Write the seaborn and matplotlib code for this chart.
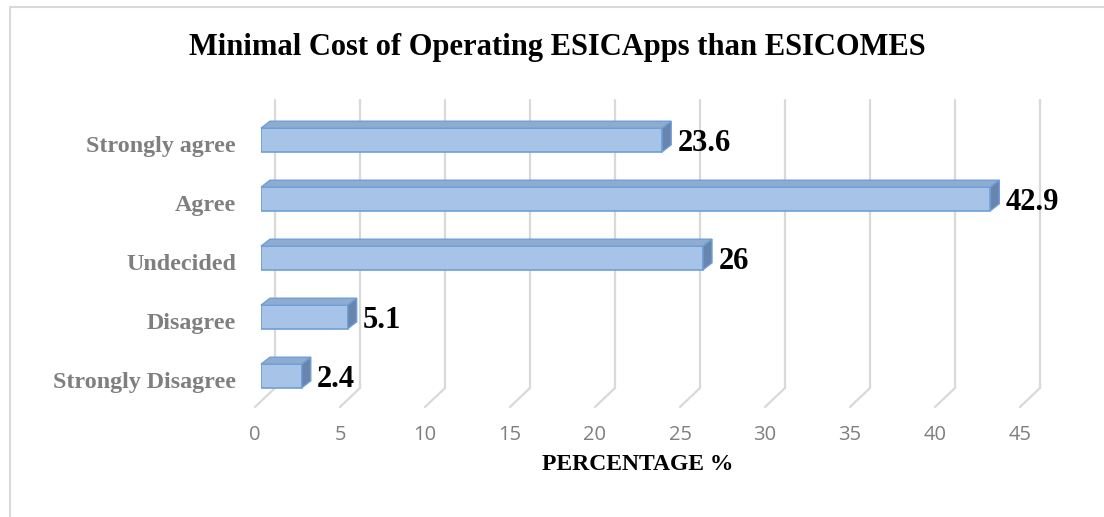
import matplotlib
matplotlib.use("Agg")
import matplotlib.pyplot as plt
import matplotlib.transforms as mtransforms
from matplotlib.patches import Polygon, Rectangle
from matplotlib.lines import Line2D
import seaborn as sns
import pandas as pd

# ---- data ----
categories = ["Strongly agree", "Agree", "Undecided", "Disagree", "Strongly Disagree"]
values = [23.6, 42.9, 26, 5.1, 2.4]
xticks = [0, 5, 10, 15, 20, 25, 30, 35, 40, 45]
title = "Minimal Cost of Operating ESICApps than ESICOMES"
xlabel = "PERCENTAGE %"

df = pd.DataFrame({"cat": categories, "val": values})

sns.set_style("white")
W, H, DPI = 1104, 517, 100
fig = plt.figure(figsize=(W / DPI, H / DPI), dpi=DPI)
fig.patch.set_facecolor("white")

# axes placement (pixels from top-left)
ax_l, ax_r, ax_t, ax_b = 261, 1060, 100, 407
ax = fig.add_axes([ax_l / W, 1 - ax_b / H, (ax_r - ax_l) / W, (ax_b - ax_t) / H])
ax.patch.set_visible(False)

SERIF = ["Liberation Serif", "DejaVu Serif"]
FRONT = "#a7c3e7"
EDGE = "#6f9fd6"
TOP = "#8eabd2"
SIDE = "#6785ae"
GRID = "#d9d9d9"

sns.barplot(data=df, x="val", y="cat", order=categories, orient="h", color=FRONT,
            width=0.4, edgecolor=EDGE, linewidth=1.2, saturation=1, ax=ax, zorder=3)

ax.set_xlim(0, (ax_r - ax_l) / 17.0)
ax.set_ylim(4 + 31 / 59, -40 / 59)
for s in ax.spines.values():
    s.set_visible(False)
ax.set_xticks(xticks)
ax.set_xticklabels([str(t) for t in xticks])
ax.tick_params(axis="both", length=0)
ax.tick_params(axis="x", pad=13, labelsize=14.5, labelcolor="#7f7f7f")
ax.tick_params(axis="y", pad=18, labelsize=17.3, labelcolor="#7f7f7f")
for lbl in ax.get_yticklabels():
    lbl.set_fontfamily(SERIF)
    lbl.set_fontweight("bold")
for lbl in ax.get_xticklabels():
    lbl.set_fontfamily(["Open Sans", "DejaVu Sans"])
ax.set_ylabel("")
ax.set_xlabel(xlabel, fontsize=17, fontweight="bold", family=SERIF, color="black")
ax.xaxis.set_label_coords((638 - ax_l) / (ax_r - ax_l), -(470 - ax_b) / (ax_b - ax_t))
ax.xaxis.label.set_va("baseline")

fig.canvas.draw()
for lbl in ax.get_xticklabels():
    lbl.set_transform(lbl.get_transform() + mtransforms.ScaledTranslation(-6 / DPI, 0, fig.dpi_scale_trans))
for lbl in ax.get_yticklabels():
    lbl.set_transform(lbl.get_transform() + mtransforms.ScaledTranslation(0, -4 / DPI, fig.dpi_scale_trans))

ident = mtransforms.IdentityTransform()

# gridlines with 3D floor slant
ylo_disp = ax.transAxes.transform((0, 0))[1]
yhi_disp = ax.transAxes.transform((0, 1))[1]
for t in xticks:
    xd = ax.transData.transform((t, 0))[0]
    back_x = xd + 14
    floor_y = ylo_disp + 19
    ax.add_line(Line2D([back_x, back_x], [floor_y, yhi_disp], color=GRID, lw=1.6,
                       transform=ident, zorder=0.5, clip_on=False))
    ax.add_line(Line2D([back_x, xd - 6], [floor_y, ylo_disp], color=GRID, lw=1.6,
                       transform=ident, zorder=0.5, clip_on=False))

# 3D faces of bars
dx, dy = 9, 7
for p in list(ax.patches):
    x0, y0 = p.get_x(), p.get_y()
    w, h = p.get_width(), p.get_height()
    (ax0, ay0) = ax.transData.transform((x0, y0))
    (ax1, ay1) = ax.transData.transform((x0 + w, y0 + h))
    left, right = min(ax0, ax1), max(ax0, ax1)
    bot, top = min(ay0, ay1), max(ay0, ay1)
    topface = Polygon([[left, top], [right, top], [right + dx, top + dy], [left + dx, top + dy]],
                      closed=True, facecolor=TOP, edgecolor=EDGE, lw=1.0, transform=ident,
                      zorder=4, clip_on=False)
    side = Polygon([[right, bot], [right + dx, bot + dy], [right + dx, top + dy], [right, top]],
                   closed=True, facecolor=SIDE, edgecolor=EDGE, lw=1.0, transform=ident,
                   zorder=4, clip_on=False)
    ax.add_artist(topface)
    ax.add_artist(side)

anns = ax.bar_label(ax.containers[0], padding=11, fontsize=22, fontweight="bold",
                    family=SERIF, color="black")
for a in anns:
    a.set_va("center_baseline")
    a.set_zorder(6)

fig.text(557 / W, 1 - 55 / H, title, ha="center", va="baseline", fontsize=22,
         fontweight="bold", family=SERIF, color="black")

fig.add_artist(Rectangle((10 / W, -0.1), 1.2, 1.1 - 7 / H, transform=fig.transFigure,
                         fill=False, edgecolor=GRID, lw=1.5, zorder=0))

fig.savefig("out.png", dpi=DPI)
